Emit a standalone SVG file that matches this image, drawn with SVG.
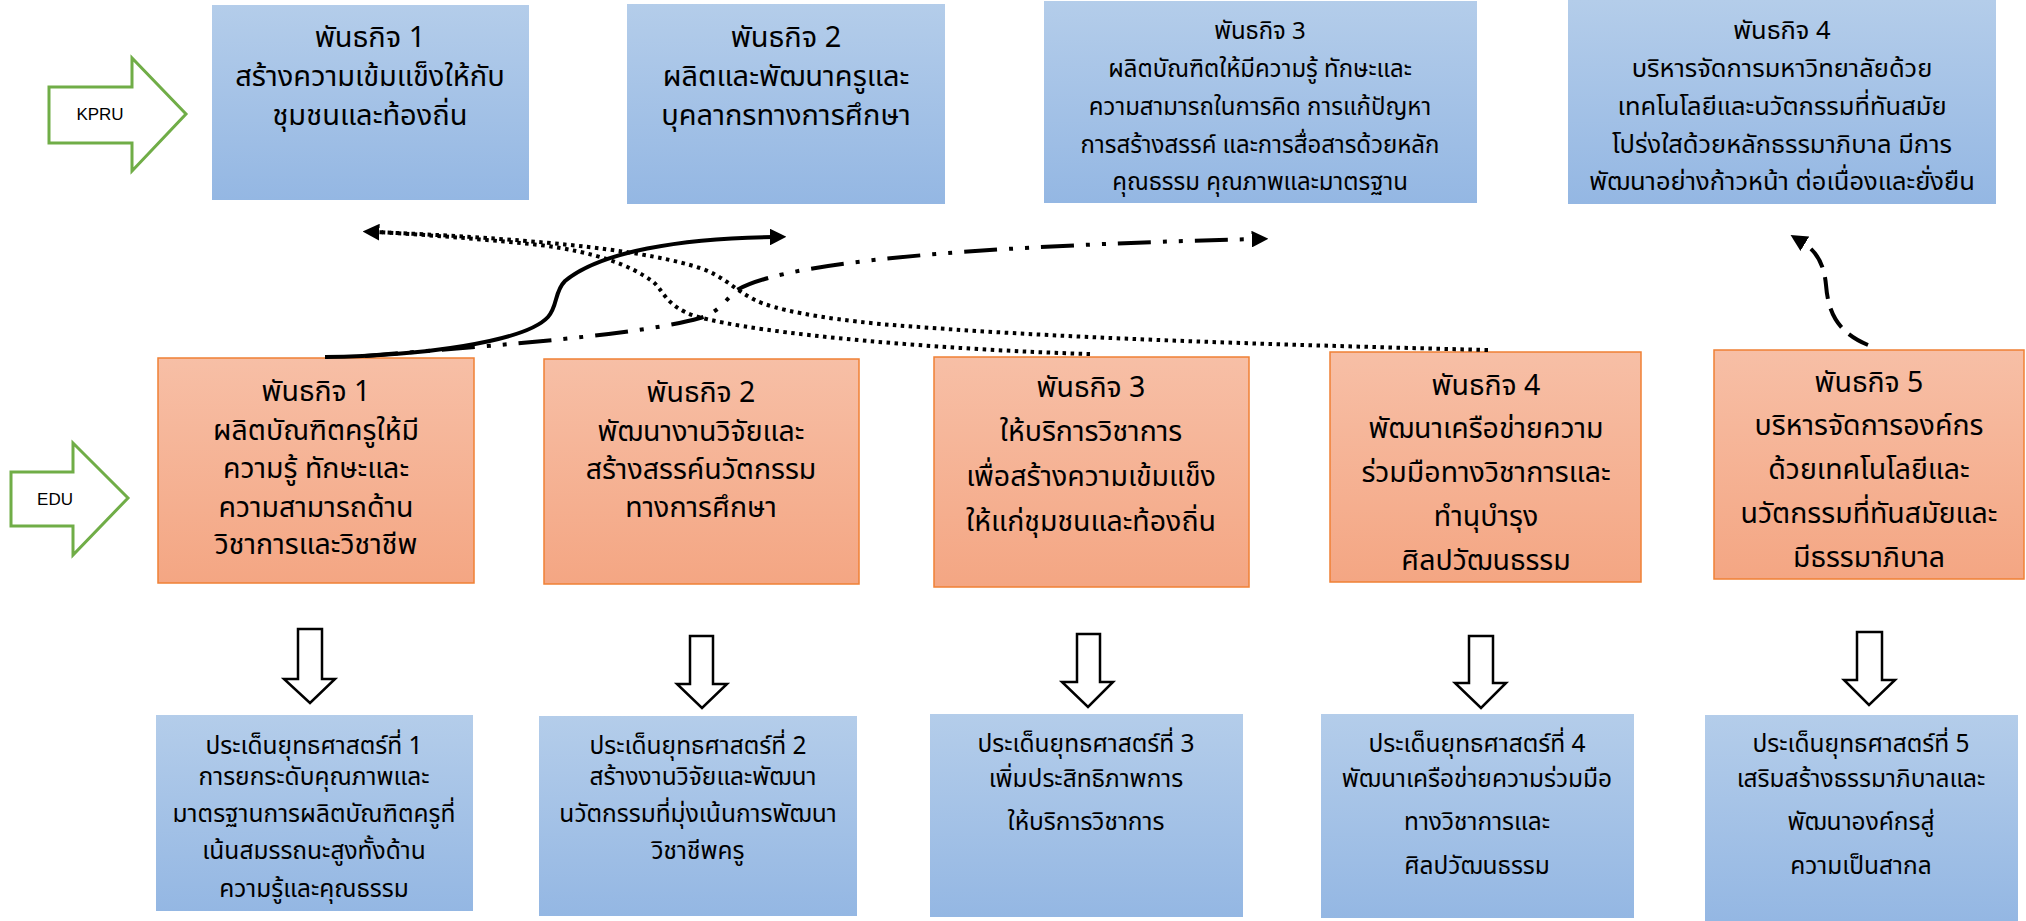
<svg xmlns="http://www.w3.org/2000/svg" width="2026" height="921" viewBox="0 0 2026 921">
<defs>
<linearGradient id="gb" x1="0" y1="0" x2="0" y2="1">
<stop offset="0" stop-color="#B4CDEA"/>
<stop offset="1" stop-color="#94B7E3"/>
</linearGradient>
<linearGradient id="go" x1="0" y1="0" x2="0" y2="1">
<stop offset="0" stop-color="#F7BFA6"/>
<stop offset="1" stop-color="#F4A683"/>
</linearGradient>
<marker id="ah" viewBox="0 0 10 10" refX="2" refY="5" markerWidth="4.2" markerHeight="4.2" orient="auto" markerUnits="strokeWidth">
<path d="M0,0 L10,5 L0,10 z" fill="#000"/>
</marker>
</defs>
<style>
.blue{fill:url(#gb)}
.org{fill:url(#go);stroke:#F08034;stroke-width:1.5}
.garrow{fill:#fff;stroke:#70AD47;stroke-width:3}
.darrow{fill:#fff;stroke:#000;stroke-width:2.5;stroke-linejoin:miter}
text{font-family:"Noto Sans Thai","Noto Sans",sans-serif;fill:#000;text-anchor:middle}
.lbl{font-family:"Liberation Sans",Arial,sans-serif;font-size:17px;fill:#000}
.tt{font-size:29px}
.ts3{font-size:24px}
.ts4{font-size:25.5px}
.mt{font-size:28.5px}
.bt{font-size:24.5px}
.bx{font-size:24.5px}
.con{fill:none;stroke:#000;stroke-width:4}
</style>

<g id="kpru">
<path class="garrow" d="M49,87 H132 V58 L186,114 L132,171 V143 H49 Z"/>
<text class="lbl" x="100" y="120">KPRU</text>
</g>
<g id="edu">
<path class="garrow" d="M11,472 H73 V443 L128,498 L73,555 V526 H11 Z"/>
<text class="lbl" x="55" y="505">EDU</text>
</g>

<g id="kpru-m1">
<rect class="blue" x="212" y="5" width="317" height="195"/>
<text class="tt" x="370"><tspan x="370" y="47">พันธกิจ 1</tspan><tspan x="370" y="86">สร้างความเข้มแข็งให้กับ</tspan><tspan x="370" y="125">ชุมชนและท้องถิ่น</tspan></text>
</g>
<g id="kpru-m2">
<rect class="blue" x="627" y="4" width="318" height="200"/>
<text class="tt" x="786"><tspan x="786" y="47">พันธกิจ 2</tspan><tspan x="786" y="86">ผลิตและพัฒนาครูและ</tspan><tspan x="786" y="125">บุคลากรทางการศึกษา</tspan></text>
</g>
<g id="kpru-m3">
<rect class="blue" x="1044" y="1" width="433" height="202"/>
<text class="ts3" x="1260"><tspan x="1260" y="39">พันธกิจ 3</tspan><tspan x="1260" y="77">ผลิตบัณฑิตให้มีความรู้ ทักษะและ</tspan><tspan x="1260" y="115">ความสามารถในการคิด การแก้ปัญหา</tspan><tspan x="1260" y="153">การสร้างสรรค์ และการสื่อสารด้วยหลัก</tspan><tspan x="1260" y="190">คุณธรรม คุณภาพและมาตรฐาน</tspan></text>
</g>
<g id="kpru-m4">
<rect class="blue" x="1568" y="0" width="428" height="204"/>
<text class="ts4" x="1782"><tspan x="1782" y="39">พันธกิจ 4</tspan><tspan x="1782" y="77">บริหารจัดการมหาวิทยาลัยด้วย</tspan><tspan x="1782" y="115">เทคโนโลยีและนวัตกรรมที่ทันสมัย</tspan><tspan x="1782" y="153">โปร่งใสด้วยหลักธรรมาภิบาล มีการ</tspan><tspan x="1782" y="190">พัฒนาอย่างก้าวหน้า ต่อเนื่องและยั่งยืน</tspan></text>
</g>

<g id="edu-m1">
<rect class="org" x="158" y="358" width="316" height="225"/>
<text class="mt" x="316"><tspan x="316" y="401">พันธกิจ 1</tspan><tspan x="316" y="440">ผลิตบัณฑิตครูให้มี</tspan><tspan x="316" y="478">ความรู้  ทักษะและ</tspan><tspan x="316" y="517">ความสามารถด้าน</tspan><tspan x="316" y="554">วิชาการและวิชาชีพ</tspan></text>
</g>
<g id="edu-m2">
<rect class="org" x="544" y="359" width="315" height="225"/>
<text class="mt" x="701"><tspan x="701" y="402">พันธกิจ 2</tspan><tspan x="701" y="441">พัฒนางานวิจัยและ</tspan><tspan x="701" y="479">สร้างสรรค์นวัตกรรม</tspan><tspan x="701" y="517">ทางการศึกษา</tspan></text>
</g>
<g id="edu-m3">
<rect class="org" x="934" y="357" width="315" height="230"/>
<text class="mt" x="1091"><tspan x="1091" y="397">พันธกิจ 3</tspan><tspan x="1091" y="441">ให้บริการวิชาการ</tspan><tspan x="1091" y="486">เพื่อสร้างความเข้มแข็ง</tspan><tspan x="1091" y="531">ให้แก่ชุมชนและท้องถิ่น</tspan></text>
</g>
<g id="edu-m4">
<rect class="org" x="1330" y="352" width="311" height="230"/>
<text class="mt" x="1486"><tspan x="1486" y="395">พันธกิจ 4</tspan><tspan x="1486" y="438">พัฒนาเครือข่ายความ</tspan><tspan x="1486" y="482">ร่วมมือทางวิชาการและ</tspan><tspan x="1486" y="526">ทำนุบำรุง</tspan><tspan x="1486" y="570">ศิลปวัฒนธรรม</tspan></text>
</g>
<g id="edu-m5">
<rect class="org" x="1714" y="350" width="310" height="229"/>
<text class="mt" x="1869"><tspan x="1869" y="392">พันธกิจ 5</tspan><tspan x="1869" y="435">บริหารจัดการองค์กร</tspan><tspan x="1869" y="479">ด้วยเทคโนโลยีและ</tspan><tspan x="1869" y="523">นวัตกรรมที่ทันสมัยและ</tspan><tspan x="1869" y="567">มีธรรมาภิบาล</tspan></text>
</g>

<g id="down-arrows">
<path class="darrow" d="M298,629 H322 V679 H335 L310,703 L284,679 H298 Z"/>
<path class="darrow" d="M690,636 H713 V684 H727 L702,708 L677,684 H690 Z"/>
<path class="darrow" d="M1077,634 H1100 V682 H1113 L1088,707 L1062,682 H1077 Z"/>
<path class="darrow" d="M1469,636 H1493 V683 H1506 L1481,708 L1455,683 H1469 Z"/>
<path class="darrow" d="M1857,632 H1882 V680 H1895 L1869,705 L1844,680 H1857 Z"/>
</g>

<g id="strategy-1">
<rect class="blue" x="156" y="715" width="317" height="196"/>
<text class="bx" x="314"><tspan class="bt" x="314" y="754">ประเด็นยุทธศาสตร์ที่ 1</tspan><tspan x="314" y="785">การยกระดับคุณภาพและ</tspan><tspan x="314" y="822">มาตรฐานการผลิตบัณฑิตครูที่</tspan><tspan x="314" y="859">เน้นสมรรถนะสูงทั้งด้าน</tspan><tspan x="314" y="897">ความรู้และคุณธรรม</tspan></text>
</g>
<g id="strategy-2">
<rect class="blue" x="539" y="716" width="318" height="200"/>
<text class="bx" x="698"><tspan class="bt" x="698" y="754">ประเด็นยุทธศาสตร์ที่ 2</tspan><tspan x="703" y="785">สร้างงานวิจัยและพัฒนา</tspan><tspan x="698" y="822">นวัตกรรมที่มุ่งเน้นการพัฒนา</tspan><tspan x="698" y="859">วิชาชีพครู</tspan></text>
</g>
<g id="strategy-3">
<rect class="blue" x="930" y="714" width="313" height="203"/>
<text class="bx" x="1086"><tspan class="bt" x="1086" y="752">ประเด็นยุทธศาสตร์ที่ 3</tspan><tspan x="1086" y="787">เพิ่มประสิทธิภาพการ</tspan><tspan x="1086" y="830">ให้บริการวิชาการ</tspan></text>
</g>
<g id="strategy-4">
<rect class="blue" x="1321" y="714" width="313" height="204"/>
<text class="bx" x="1477"><tspan class="bt" x="1477" y="752">ประเด็นยุทธศาสตร์ที่ 4</tspan><tspan x="1477" y="787">พัฒนาเครือข่ายความร่วมมือ</tspan><tspan x="1477" y="830">ทางวิชาการและ</tspan><tspan x="1477" y="874">ศิลปวัฒนธรรม</tspan></text>
</g>
<g id="strategy-5">
<rect class="blue" x="1705" y="715" width="313" height="206"/>
<text class="bx" x="1861"><tspan class="bt" x="1861" y="752">ประเด็นยุทธศาสตร์ที่ 5</tspan><tspan x="1861" y="787">เสริมสร้างธรรมาภิบาลและ</tspan><tspan x="1861" y="830">พัฒนาองค์กรสู่</tspan><tspan x="1861" y="874">ความเป็นสากล</tspan></text>
</g>

<g id="connectors">
<path class="con" stroke-width="4" d="M325,357 C420,356 525,342 548,317 C558,306 554,292 565,281 C600,252 680,238 773,237" marker-end="url(#ah)"/>
<path class="con" stroke-width="3.5" stroke-dasharray="3.5 4.5" d="M1488,350 C1250,344 1050,338 880,324 C820,318 775,310 755,300 C735,290 722,275 700,268 C650,252 560,240 376,232" marker-end="url(#ah)"/>
<path class="con" stroke-width="3.5" stroke-dasharray="3.5 4.5" d="M1090,354 C950,350 760,335 695,316 C665,306 664,290 652,281 C630,265 595,252 540,245 C480,239 430,235 376,232"/>
<path class="con" stroke-width="4" stroke-dasharray="33 12 4 12 4 12" d="M365,356 C500,345 640,335 700,318 C722,311 727,297 737,290 C775,268 900,248 1255,239" marker-end="url(#ah)"/>
<path class="con" stroke-width="4" stroke-dasharray="22 10" d="M1868,345 C1836,332 1828,310 1826,285 C1824,262 1815,250 1802,242" marker-end="url(#ah)"/>
</g>
</svg>
